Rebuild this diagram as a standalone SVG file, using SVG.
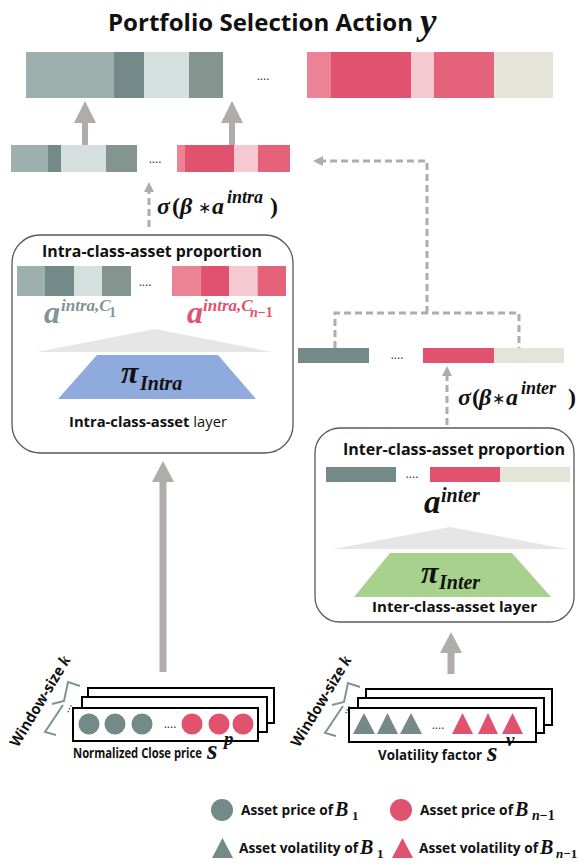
<svg xmlns="http://www.w3.org/2000/svg" width="583" height="864" viewBox="0 0 583 864">
<style>
.s{font-family:"Open Sans","Liberation Sans",sans-serif;font-weight:700;fill:#111}
.sr{font-family:"Open Sans","Liberation Sans",sans-serif;font-weight:400;fill:#111}
.m{font-family:"Liberation Serif","DejaVu Serif",serif;font-weight:700;font-style:italic;fill:#111}
.up{font-style:normal}
.ast{font-family:"DejaVu Sans",sans-serif;font-style:normal;font-weight:400}
.dots{font-family:"Open Sans","Liberation Sans",sans-serif;font-size:12px;fill:#333;text-anchor:middle}
.box{fill:#fff;stroke:#5a5a5a;stroke-width:1.3}
.stk{fill:#fff;stroke:#000;stroke-width:2}
.dash{fill:none;stroke:#b0acab;stroke-width:3;stroke-dasharray:7 4}
.arr{fill:#b0acab}
.brace{fill:none;stroke:#7f9593;stroke-width:2}
.c1{fill:#9eb0ae}.c2{fill:#748a88}.c3{fill:#d5dfde}.c4{fill:#84958f}
.r1{fill:#eb8395}.r2{fill:#e0526e}.r3{fill:#f5c9d2}.r4{fill:#e4627a}.bg{fill:#e5e4d8}
.tri{fill:#e6e6e6}
</style>

<g id="title">
<text class="s" x="108" y="31" font-size="23" textLength="305" lengthAdjust="spacingAndGlyphs">Portfolio Selection Action</text>
<text class="m" x="420" y="34" font-size="37">y</text>
</g>

<g id="output-bar">
<rect class="c1" x="26" y="52" width="88" height="46"/>
<rect class="c2" x="114" y="52" width="30" height="46"/>
<rect class="c3" x="144" y="52" width="45" height="46"/>
<rect class="c4" x="189" y="52" width="34" height="46"/>
<text class="dots" x="263" y="80">....</text>
<rect class="r1" x="307" y="52" width="24" height="46"/>
<rect class="r2" x="331" y="52" width="80" height="46"/>
<rect class="r3" x="411" y="52" width="23" height="46"/>
<rect class="r4" x="434" y="52" width="60" height="46"/>
<rect class="bg" x="494" y="52" width="59" height="46"/>
</g>

<g id="scaled-intra-bar">
<rect class="c1" x="11" y="145" width="37" height="27"/>
<rect class="c2" x="48" y="145" width="13" height="27"/>
<rect class="c3" x="61" y="145" width="45" height="27"/>
<rect class="c4" x="106" y="145" width="31" height="27"/>
<text class="dots" x="155" y="163">....</text>
<rect class="r1" x="177" y="145" width="8" height="27"/>
<rect class="r2" x="185" y="145" width="49" height="27"/>
<rect class="r3" x="234" y="145" width="24" height="27"/>
<rect class="r4" x="258" y="145" width="32" height="27"/>
</g>

<g id="intra-box">
<rect class="box" x="12" y="235" width="281" height="218" rx="28"/>
<text class="s" x="42" y="257" font-size="15.5" textLength="220" lengthAdjust="spacingAndGlyphs">Intra-class-asset proportion</text>
<rect class="c1" x="17" y="266" width="28" height="30"/>
<rect class="c2" x="45" y="266" width="29" height="30"/>
<rect class="c3" x="74" y="266" width="28" height="30"/>
<rect class="c4" x="102" y="266" width="29" height="30"/>
<text class="dots" x="145" y="286">....</text>
<rect class="r1" x="172" y="266" width="28.6" height="30"/>
<rect class="r2" x="200.6" y="266" width="28.4" height="30"/>
<rect class="r3" x="229" y="266" width="28.6" height="30"/>
<rect class="r4" x="257.6" y="266" width="28.4" height="30"/>
<text class="m" style="fill:#7f9593" font-size="32"><tspan x="44" y="323">a</tspan><tspan x="61" y="311" font-size="17">intra,C</tspan><tspan class="up" x="109" y="317" font-size="14">1</tspan></text>
<text class="m" style="fill:#e0526e" font-size="32"><tspan x="187" y="323">a</tspan><tspan x="203" y="311" font-size="17">intra,C</tspan><tspan x="250" y="317" font-size="14">n</tspan><tspan class="up" font-size="14">−1</tspan></text>
<polygon class="tri" points="155,329 272,352 37,352"/>
<polygon points="97,355 218,355 256,399 58,399" fill="#8faadc"/>
<text class="m" font-size="32"><tspan x="121" y="383">π</tspan><tspan x="140" y="390" font-size="20">Intra</tspan></text>
<text class="s" x="69" y="427" font-size="14" textLength="158" lengthAdjust="spacingAndGlyphs">Intra-class-asset <tspan class="sr">layer</tspan></text>
</g>

<g id="inter-bar">
<rect class="c2" x="298" y="348" width="71" height="15"/>
<text class="dots" x="397" y="359">....</text>
<rect class="r2" x="423" y="348" width="71" height="15"/>
<rect class="bg" x="494" y="348" width="70" height="15"/>
</g>

<g id="inter-box">
<rect class="box" x="315" y="428" width="259" height="194" rx="25"/>
<text class="s" x="343" y="455" font-size="15.5" textLength="222" lengthAdjust="spacingAndGlyphs">Inter-class-asset proportion</text>
<rect class="c2" x="326" y="467" width="70" height="15"/>
<text class="dots" x="412" y="478">....</text>
<rect class="r2" x="430" y="467" width="70" height="15"/>
<rect class="bg" x="500" y="467" width="70" height="15"/>
<text class="m" font-size="33"><tspan x="424" y="513">a</tspan><tspan x="441" y="502" font-size="20">inter</tspan></text>
<polygon class="tri" points="450,527 567,549 333,549"/>
<polygon points="390,553 512,553 551,597 354,597" fill="#a9d18e"/>
<text class="m" font-size="32"><tspan x="421" y="583">π</tspan><tspan x="439" y="589" font-size="20">Inter</tspan></text>
<text class="s" x="372" y="612" font-size="14.5" textLength="165" lengthAdjust="spacingAndGlyphs">Inter-class-asset layer</text>
</g>

<g id="price-input">
<rect class="stk" x="88" y="688" width="186" height="35"/>
<rect class="stk" x="82" y="697" width="185" height="35"/>
<rect class="stk" x="73" y="708" width="185" height="33"/>
<circle class="c2" cx="89" cy="724" r="10.5"/>
<circle class="c2" cx="115" cy="724" r="10.5"/>
<circle class="c2" cx="142" cy="724" r="10.5"/>
<text class="dots" x="170" y="728">....</text>
<circle class="r2" cx="192" cy="724" r="10.5"/>
<circle class="r2" cx="219" cy="724" r="10.5"/>
<circle class="r2" cx="243" cy="724" r="10.5"/>
<path class="brace" d="M80,686 L68,682 L64,701 L52,704 M63,705 L45,732 L56,735"/>
<text class="dots" transform="translate(70,709) rotate(-65)">...</text>
<text transform="translate(18,748) rotate(-59)" textLength="103" lengthAdjust="spacingAndGlyphs"><tspan class="s" font-size="15">Window-size </tspan><tspan class="m" font-size="17">k</tspan></text>
<text class="s" x="73" y="758" font-size="15" textLength="129" lengthAdjust="spacingAndGlyphs">Normalized Close price</text>
<text class="m" font-size="27"><tspan x="207" y="759">s</tspan><tspan x="224" y="745" font-size="19">p</tspan></text>
</g>

<g id="volatility-input">
<rect class="stk" x="366" y="689" width="186" height="36"/>
<rect class="stk" x="358" y="698" width="186" height="35"/>
<rect class="stk" x="349" y="708" width="187" height="34"/>
<polygon class="c2" points="364,713 375,734 353,734"/>
<polygon class="c2" points="387.5,713 398,734 377,734"/>
<polygon class="c2" points="411,713 422,734 400,734"/>
<text class="dots" x="438" y="729">....</text>
<polygon class="r2" points="462.5,713 473,734 452,734"/>
<polygon class="r2" points="488,713 498,734 478,734"/>
<polygon class="r2" points="512.5,713 523,734 502,734"/>
<path class="brace" d="M360,687 L348,683 L344,702 L332,705 M343,706 L325,733 L336,736"/>
<text class="dots" transform="translate(348,710) rotate(-65)">...</text>
<text transform="translate(299,748) rotate(-59)" textLength="103" lengthAdjust="spacingAndGlyphs"><tspan class="s" font-size="15">Window-size </tspan><tspan class="m" font-size="17">k</tspan></text>
<text class="s" x="378" y="760" font-size="15" textLength="104" lengthAdjust="spacingAndGlyphs">Volatility factor</text>
<text class="m" font-size="27"><tspan x="487" y="761">s</tspan><tspan x="506" y="746" font-size="19">v</tspan></text>
</g>

<g id="legend">
<circle class="c2" cx="222" cy="810" r="11"/>
<text class="s" x="241" y="815" font-size="14.5" textLength="92" lengthAdjust="spacingAndGlyphs">Asset price of</text>
<text class="m" font-size="20"><tspan x="335" y="816">B</tspan><tspan class="up" x="352" y="820" font-size="13">1</tspan></text>
<circle class="r2" cx="401" cy="810" r="11"/>
<text class="s" x="420" y="815" font-size="14.5" textLength="93" lengthAdjust="spacingAndGlyphs">Asset price of</text>
<text class="m" font-size="20"><tspan x="515" y="816">B</tspan><tspan x="532" y="820" font-size="14">n</tspan><tspan class="up" font-size="14">−1</tspan></text>
<polygon class="c2" points="222.5,838 233,858 212,858"/>
<text class="s" x="239" y="853" font-size="14.5" textLength="119" lengthAdjust="spacingAndGlyphs">Asset volatility of</text>
<text class="m" font-size="20"><tspan x="360" y="854">B</tspan><tspan class="up" x="377" y="858" font-size="13">1</tspan></text>
<polygon class="r2" points="402.5,838 413,858 392,858"/>
<text class="s" x="419" y="853" font-size="14.5" textLength="119" lengthAdjust="spacingAndGlyphs">Asset volatility of</text>
<text class="m" font-size="20"><tspan x="540" y="854">B</tspan><tspan x="556" y="858" font-size="13">n</tspan><tspan class="up" font-size="13">−1</tspan></text>
</g>

<g id="connectors">
<polygon class="arr" points="85,101 96,123 74,123"/>
<rect class="arr" x="82" y="122" width="6" height="23"/>
<polygon class="arr" points="232,101 243,123 221,123"/>
<rect class="arr" x="229" y="122" width="6" height="23"/>
<line class="dash" x1="149" y1="227" x2="149" y2="191"/>
<polygon class="arr" points="149,182 154,192 144,192"/>
<path class="dash" d="M335,348 V313 H519 V348 M427,313 V161 H322"/>
<polygon class="arr" points="313,161 323,156 323,166"/>
<line class="dash" x1="447" y1="425" x2="447" y2="375"/>
<polygon class="arr" points="447,366 452,376 442,376"/>
<polygon class="arr" points="163,461 174,482 152,482"/>
<rect class="arr" x="159.5" y="481" width="7" height="191"/>
<polygon class="arr" points="451,632 462,653 440,653"/>
<rect class="arr" x="447.5" y="652" width="7" height="22"/>
</g>

<g id="labels">
<text class="m" font-size="24"><tspan x="157" y="214">σ</tspan><tspan class="up" x="172" y="214">(</tspan><tspan x="180" y="214">β</tspan><tspan class="ast" x="198" y="213" font-size="16">∗</tspan><tspan x="212" y="214">a</tspan><tspan x="227" y="203" font-size="18">intra</tspan><tspan class="up" x="270" y="214">)</tspan></text>
<text class="m" font-size="24"><tspan x="458" y="405">σ</tspan><tspan class="up" x="472" y="405">(</tspan><tspan x="479" y="405">β</tspan><tspan class="ast" x="492" y="404" font-size="16">∗</tspan><tspan x="506" y="405">a</tspan><tspan x="521" y="394" font-size="18">inter</tspan><tspan class="up" x="568" y="405">)</tspan></text>
</g>
</svg>
